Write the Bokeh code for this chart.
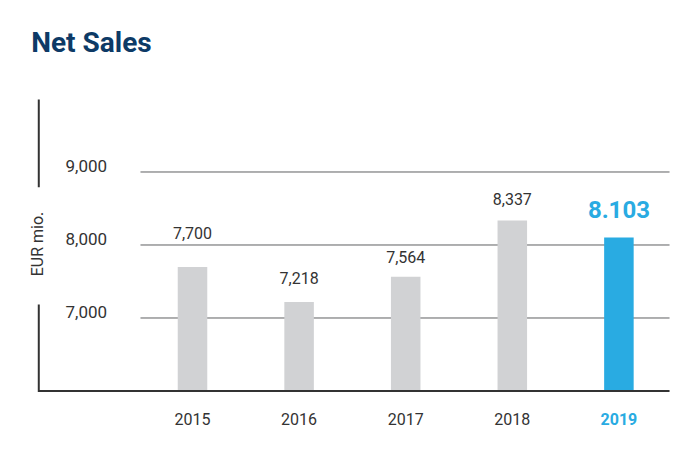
import math
from bokeh.plotting import figure
from bokeh.models import Range1d, ColumnDataSource, Label
from bokeh.core.properties import value
from bokeh.embed import file_html
from bokeh.resources import INLINE

# ---- data ----
title_text = "Net Sales"
years = ["2015", "2016", "2017", "2018", "2019"]
net_sales = [7700, 7218, 7564, 8337, 8103]
value_labels = ["7,700", "7,218", "7,564", "8,337", "8.103"]
y_ticks = [7000, 8000, 9000]
y_tick_labels = ["7,000", "8,000", "9,000"]
unit_label = "EUR mio."
highlight_year = "2019"

# ---- styling ----
GRAY = "#d1d2d4"
BLUE = "#29abe2"
DARK = "#333333"
NAVY = "#0d3a66"
FONT = "Roboto"
label_lift = [34, 24, 20, 21, 28]  # px above bar top

idx = list(range(len(years)))
is_hl = [y == highlight_year for y in years]

p = figure(width=684, height=455,
           x_range=Range1d(-1.6135, 4.484), y_range=Range1d(5321.9, 11349.3),
           min_border_left=20, min_border_right=14,
           min_border_top=0, min_border_bottom=15,
           output_backend="svg", toolbar_location=None)
p.xaxis.visible = False
p.yaxis.visible = False
p.xgrid.visible = False
p.ygrid.visible = False
p.outline_line_color = None
p.background_fill_color = "white"
p.border_fill_color = "white"

# layout constants (data units)
X_AXIS = -1.442
X_GRID0 = -0.488
X_END = 4.475
Y_BASE = 6000
Y_AXIS_TOP = 9993
X_TITLE = -1.513
Y_TITLE = 10774

# title
p.add_layout(Label(x=X_TITLE, y=Y_TITLE, text=title_text, text_font=FONT,
                   text_font_style="bold", text_font_size="28px", text_color=NAVY,
                   text_baseline="alphabetic", text_align="left"))

# gridlines
p.segment(x0=[X_GRID0] * len(y_ticks), x1=[X_END] * len(y_ticks), y0=y_ticks, y1=y_ticks,
          line_color="#5f6062", line_width=1)

# bars
src = ColumnDataSource(dict(
    x=idx, top=net_sales, color=[BLUE if h else GRAY for h in is_hl],
    lab=value_labels, year=years,
    lab_color=[BLUE if h else DARK for h in is_hl],
    lab_size=["24px" if h else "16px" for h in is_hl],
    lab_style=["bold" if h else "normal" for h in is_hl],
    lift=[-l for l in label_lift],
    ycol=[DARK if not h else BLUE for h in is_hl],
    ystyle=["bold" if h else "normal" for h in is_hl],
))
p.vbar(x="x", top="top", bottom=Y_BASE, width=0.277, fill_color="color", line_color=None, source=src)

# baseline and left axis line (with gap for unit label)
p.segment(x0=[X_AXIS], x1=[X_END], y0=[Y_BASE], y1=[Y_BASE], line_color=DARK, line_width=2)
p.segment(x0=[X_AXIS, X_AXIS], x1=[X_AXIS, X_AXIS], y0=[Y_BASE - 14, 8790], y1=[7185, Y_AXIS_TOP],
          line_color=DARK, line_width=2)

# value labels
p.text(x="x", y="top", text="lab", source=src, text_align="center", text_baseline="middle",
       y_offset="lift", text_color="lab_color", text_font=value(FONT),
       text_font_size="lab_size", text_font_style="lab_style")

# year labels
p.text(x="x", y=Y_BASE, text="year", source=src, text_align="center", text_baseline="middle",
       y_offset=28.5, text_color="ycol", text_font=value(FONT),
       text_font_size="16px", text_font_style="ystyle")

# y tick labels
p.text(x=[-1.191] * len(y_ticks), y=y_ticks, text=y_tick_labels, text_align="left",
       text_baseline="middle", y_offset=-5.5, text_color=DARK, text_font=value(FONT),
       text_font_size="17px")

# unit label
p.text(x=[-1.454], y=[8000], text=[unit_label], angle=math.pi / 2, text_align="center",
       text_baseline="middle", y_offset=-1, text_color=DARK, text_font=value(FONT),
       text_font_size="16px")

open("out.html", "w").write(file_html(p, INLINE))
